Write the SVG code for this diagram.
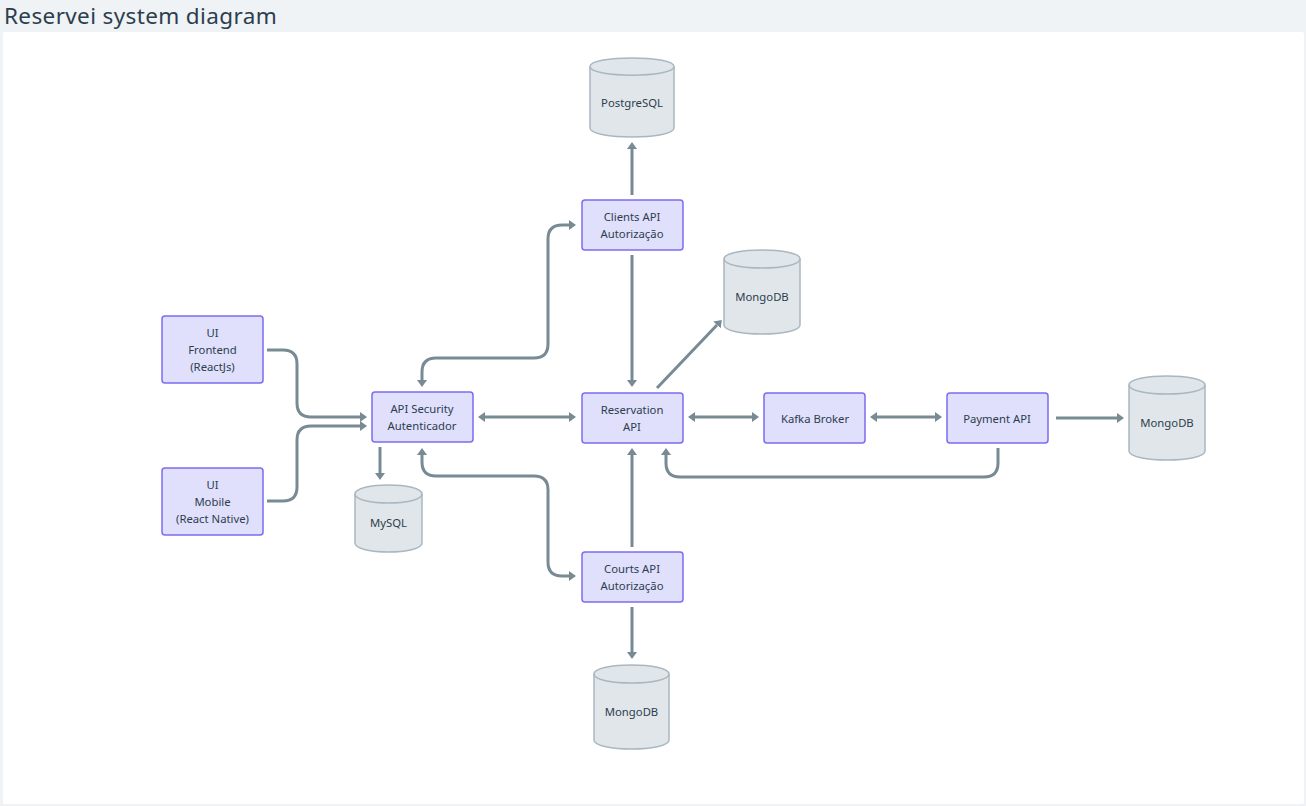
<svg xmlns="http://www.w3.org/2000/svg" width="1306" height="806" viewBox="0 0 1306 806">
<style>
text{font-family:"Noto Sans","Liberation Sans",sans-serif;fill:#2c3e4d}
.t{font-size:11.3px;text-anchor:middle}
.b{fill:#e0dffc;stroke:#7b6cf0;stroke-width:1.5}
.d{fill:#e1e6ea;stroke:#a9b7c1;stroke-width:1.5}
.d2{fill:none;stroke:#a9b7c1;stroke-width:1.5}
#connectors path{fill:none;stroke:#788a93;stroke-width:3;marker-end:url(#a)}
#connectors path.two{marker-start:url(#s)}
</style>
<defs>
<marker id="a" markerUnits="userSpaceOnUse" markerWidth="10" markerHeight="12" refX="0" refY="6" orient="auto"><path d="M0 1L7 6L0 11Z" fill="#788a93"/></marker>
<marker id="s" markerUnits="userSpaceOnUse" markerWidth="10" markerHeight="12" refX="7" refY="6" orient="auto"><path d="M7 1L0 6L7 11Z" fill="#788a93"/></marker>
</defs>
<rect width="1306" height="806" fill="#eff3f6"/>
<rect x="3" y="32" width="1301" height="772" rx="2" fill="#fff"/>
<text x="4" y="24" font-size="22.500" letter-spacing="0.37">Reservei system diagram</text>
<g id="connectors">
<path d="M267 350H283Q297 350 297 364V403Q297 417 311 417H360"/>
<path d="M267 501H283Q297 501 297 487V440Q297 426 311 426H360"/>
<path d="M380 447V473"/>
<path class="two" d="M422 380V372Q422 358 436 358H534Q548 358 548 344V239Q548 225 562 225H569"/>
<path class="two" d="M422 455V462Q422 476 436 476H534Q548 476 548 490V562Q548 576 562 576H569"/>
<path class="two" d="M485 417H569"/>
<path d="M632 195V149"/>
<path d="M632 255V380"/>
<path d="M657 388L717 325"/>
<path d="M632 547V455"/>
<path d="M632 607V652"/>
<path class="two" d="M695 417H752"/>
<path class="two" d="M877 417H935"/>
<path d="M1056 418H1117"/>
<path d="M998 448V463Q998 477 984 477H680Q666 477 666 463V455"/>
</g>
<g id="ui-frontend"><rect class="b" x="162" y="316" width="101" height="67" rx="3"/><text class="t" x="212.500" y="337">UI</text><text class="t" x="212.500" y="354">Frontend</text><text class="t" x="212.500" y="371">(ReactJs)</text></g>
<g id="ui-mobile"><rect class="b" x="162" y="468" width="101" height="67" rx="3"/><text class="t" x="212.500" y="489">UI</text><text class="t" x="212.500" y="506">Mobile</text><text class="t" x="212.500" y="523">(React Native)</text></g>
<g id="api-security"><rect class="b" x="372" y="392" width="101" height="50" rx="3"/><text class="t" x="422" y="413">API Security</text><text class="t" x="422" y="430">Autenticador</text></g>
<g id="clients-api"><rect class="b" x="582" y="200" width="101" height="50" rx="3"/><text class="t" x="632" y="221">Clients API</text><text class="t" x="632" y="238">Autorização</text></g>
<g id="reservation-api"><rect class="b" x="582" y="393" width="101" height="50" rx="3"/><text class="t" x="632" y="414">Reservation</text><text class="t" x="632" y="431">API</text></g>
<g id="courts-api"><rect class="b" x="582" y="552" width="101" height="50" rx="3"/><text class="t" x="632" y="573">Courts API</text><text class="t" x="632" y="590">Autorização</text></g>
<g id="kafka-broker"><rect class="b" x="764" y="393" width="101" height="50" rx="3"/><text class="t" x="815" y="423">Kafka Broker</text></g>
<g id="payment-api"><rect class="b" x="947" y="393" width="101" height="50" rx="3"/><text class="t" x="997" y="423">Payment API</text></g>
<g id="postgresql"><path class="d" d="M590 66.500C590 55 674 55 674 66.500V128C674 140 590 140 590 128Z"/><path class="d2" d="M590 66.500C590 78 674 78 674 66.500"/><text class="t" x="632" y="107">PostgreSQL</text></g>
<g id="mongodb-top"><path class="d" d="M724 259C724 247 800 247 800 259V325C800 337 724 337 724 325Z"/><path class="d2" d="M724 259C724 271 800 271 800 259"/><text class="t" x="762" y="301">MongoDB</text></g>
<g id="mysql"><path class="d" d="M355 494C355 482 422 482 422 494V543C422 555 355 555 355 543Z"/><path class="d2" d="M355 494C355 506 422 506 422 494"/><text class="t" x="388.500" y="527">MySQL</text></g>
<g id="mongodb-right"><path class="d" d="M1129 385C1129 373 1205 373 1205 385V451C1205 463 1129 463 1129 451Z"/><path class="d2" d="M1129 385C1129 397 1205 397 1205 385"/><text class="t" x="1167" y="427">MongoDB</text></g>
<g id="mongodb-bottom"><path class="d" d="M594 674C594 662 669 662 669 674V740C669 752 594 752 594 740Z"/><path class="d2" d="M594 674C594 686 669 686 669 674"/><text class="t" x="631.500" y="716">MongoDB</text></g>
</svg>
